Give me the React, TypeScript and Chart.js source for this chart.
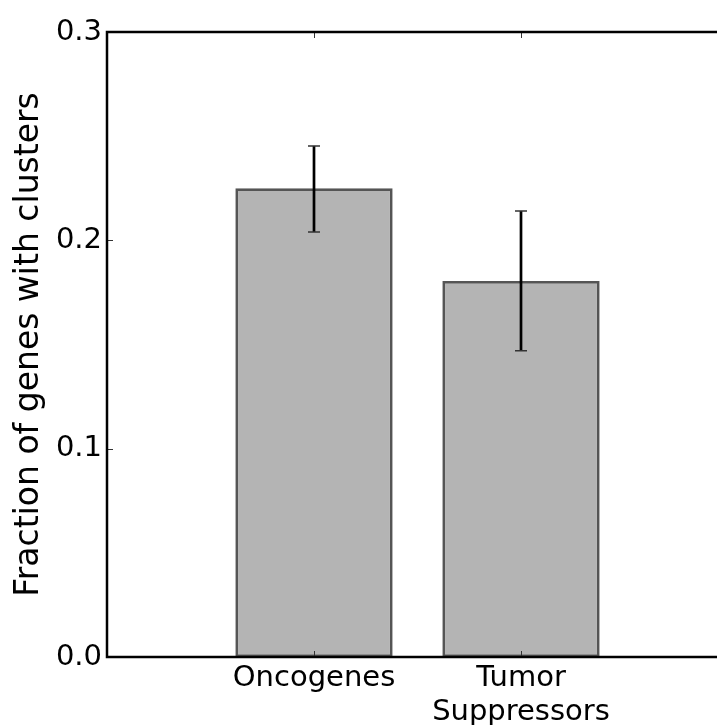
import React, { useEffect, useRef } from "react";
import { Chart, registerables } from "chart.js";

Chart.register(...registerables);

// ---- data ----
const categories = ["Oncogenes", "Tumor\nSuppressors"];
const xPositions = [1, 2];
const fractions = [0.225, 0.1805];
const errLow = [0.204, 0.147];
const errHigh = [0.2453, 0.2141];
const yTicks = [0, 0.1, 0.2, 0.3];
const xTicks = [0, 1, 2, 3];
const yTitle = "Fraction of genes with clusters";

const FONT = "'DejaVu Sans', sans-serif";

const errorBarPlugin = {
  id: "errorBars",
  afterDatasetsDraw(chart: any) {
    const { ctx, scales } = chart;
    const xs = scales.x;
    const ys = scales.y;
    ctx.save();
    xPositions.forEach((xv, i) => {
      const x = xs.getPixelForValue(xv);
      const yl = ys.getPixelForValue(errLow[i]);
      const yh = ys.getPixelForValue(errHigh[i]);
      ctx.strokeStyle = "#000";
      ctx.lineWidth = 2.7;
      ctx.beginPath();
      ctx.moveTo(x, yl);
      ctx.lineTo(x, yh);
      ctx.stroke();
      ctx.strokeStyle = "#333";
      ctx.lineWidth = 1.5;
      ctx.beginPath();
      ctx.moveTo(x - 6, yl);
      ctx.lineTo(x + 6, yl);
      ctx.moveTo(x - 6, yh);
      ctx.lineTo(x + 6, yh);
      ctx.stroke();
    });
    ctx.restore();
  },
};

const framePlugin = {
  id: "frame",
  afterDraw(chart: any) {
    const { ctx, chartArea, scales } = chart;
    const { left, right, top, bottom } = chartArea;
    ctx.save();
    ctx.strokeStyle = "#333";
    ctx.lineWidth = 1;
    ctx.beginPath();
    yTicks.forEach((v) => {
      const y = Math.round(scales.y.getPixelForValue(v)) + 0.5;
      ctx.moveTo(left, y);
      ctx.lineTo(left + 6, y);
      ctx.moveTo(right, y);
      ctx.lineTo(right - 6, y);
    });
    xPositions.forEach((v) => {
      const x = Math.round(scales.x.getPixelForValue(v)) + 0.5;
      ctx.moveTo(x, bottom);
      ctx.lineTo(x, bottom - 6);
      ctx.moveTo(x, top);
      ctx.lineTo(x, top + 6);
    });
    ctx.stroke();
    ctx.strokeStyle = "#000";
    ctx.lineWidth = 2.5;
    ctx.strokeRect(left, top, right - left, bottom - top);
    ctx.restore();
  },
};

export default function App() {
  const ref = useRef<HTMLCanvasElement | null>(null);

  useEffect(() => {
    if (!ref.current) return;
    const chart = new Chart(ref.current, {
      type: "bar",
      data: {
        datasets: [
          {
            data: xPositions.map((x, i) => ({ x, y: fractions[i] })),
            backgroundColor: "#b4b4b4",
            borderColor: "#555555",
            borderWidth: 2.7,
            borderSkipped: false,
            barPercentage: 0.76,
            categoryPercentage: 1,
          } as any,
        ],
      },
      options: {
        responsive: false,
        animation: false,
        devicePixelRatio: 1,
        layout: { padding: { top: 32, right: 32, left: 0, bottom: 0 } },
        plugins: {
          legend: { display: false },
          tooltip: { enabled: false },
        },
        scales: {
          x: {
            type: "linear",
            min: 0,
            max: 3,
            offset: false,
            grid: { display: false, drawTicks: false },
            border: { display: false },
            afterBuildTicks: (s: any) => {
              s.ticks = xTicks.map((v) => ({ value: v }));
            },
            ticks: {
              autoSkip: false,
              maxRotation: 0,
              minRotation: 0,
              padding: 5,
              color: "#000",
              font: { family: FONT, size: 29, lineHeight: 1.15 },
              callback: (v: any) => {
                const i = xPositions.indexOf(Number(v));
                return i >= 0 ? categories[i].split("\n") : "";
              },
            },
            afterFit: (s: any) => {
              s.height = 68;
            },
          },
          y: {
            min: 0,
            max: 0.3,
            grid: { display: false, drawTicks: false },
            border: { display: false },
            afterBuildTicks: (s: any) => {
              s.ticks = yTicks.map((v) => ({ value: v }));
            },
            ticks: {
              padding: 5,
              color: "#000",
              font: { family: FONT, size: 29 },
              callback: (v: any) => Number(v).toFixed(1),
            },
            title: {
              display: true,
              text: yTitle,
              color: "#000",
              font: { family: FONT, size: 33 },
              padding: { top: 10, bottom: 0 },
            },
            afterFit: (s: any) => {
              s.width = 107;
            },
          },
        },
      } as any,
      plugins: [errorBarPlugin, framePlugin],
    });
    return () => chart.destroy();
  }, []);

  return (
    <div
      style={{
        position: "fixed",
        left: 0,
        top: 0,
        width: 717,
        height: 725,
        overflow: "hidden",
        background: "#fff",
      }}
    >
      <canvas ref={ref} width={760} height={725} style={{ display: "block" }} />
    </div>
  );
}
